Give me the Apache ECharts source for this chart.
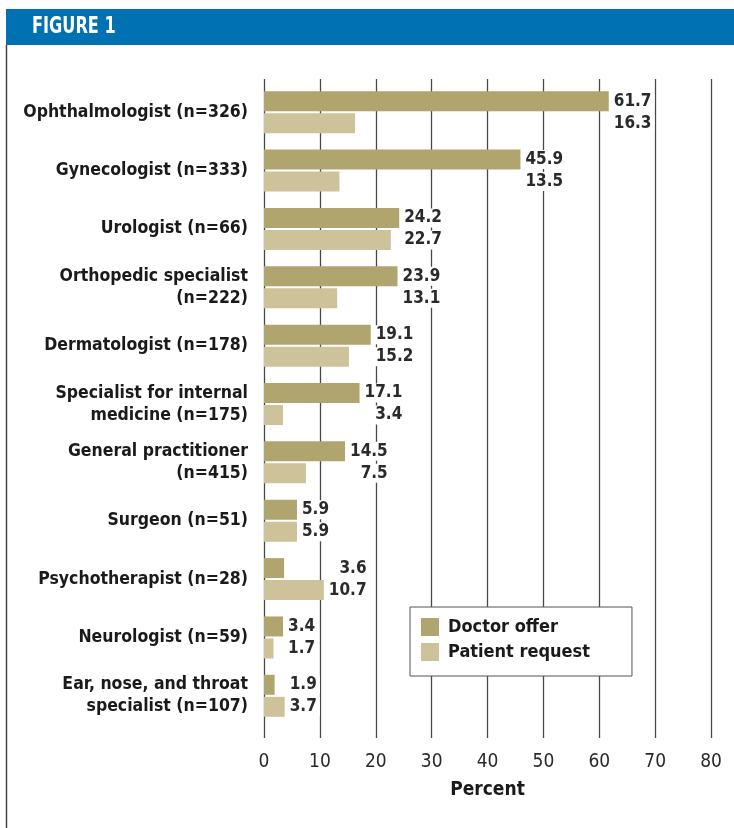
<!DOCTYPE html>
<html><head><meta charset="utf-8">
<script src="https://cdn.jsdelivr.net/npm/echarts@6/dist/echarts.min.js"></script>
<style>html,body{margin:0;padding:0;background:#fff}#c{width:734px;height:828px}</style>
</head><body><div id="c"></div>
<script>
const categories = [
  'Ophthalmologist (n=326)',
  'Gynecologist (n=333)',
  'Urologist (n=66)',
  'Orthopedic specialist\n(n=222)',
  'Dermatologist (n=178)',
  'Specialist for internal\nmedicine (n=175)',
  'General practitioner\n(n=415)',
  'Surgeon (n=51)',
  'Psychotherapist (n=28)',
  'Neurologist (n=59)',
  'Ear, nose, and throat\nspecialist (n=107)'
];
const doctorOffer = [61.7, 45.9, 24.2, 23.9, 19.1, 17.1, 14.5, 5.9, 3.6, 3.4, 1.9];
const patientRequest = [16.3, 13.5, 22.7, 13.1, 15.2, 3.4, 7.5, 5.9, 10.7, 1.7, 3.7];
const xTicks = [0, 10, 20, 30, 40, 50, 60, 70, 80];
const seriesNames = ['Doctor offer', 'Patient request'];

const FONT = "'Liberation Sans Narrow', 'DejaVu Sans Condensed', 'Arial Narrow', sans-serif";
const C1 = '#b1a56f', C2 = '#cdc299';
const valFont = 'bold 17px ' + FONT;
const mctx = document.createElement('canvas').getContext('2d');
function tw(t){ mctx.font = valFont; return mctx.measureText(t).width; }

const chart = echarts.init(document.getElementById('c'), null, {renderer:'canvas'});
const labelData = categories.map((c,i)=>[Math.max(doctorOffer[i], patientRequest[i]), i, doctorOffer[i], patientRequest[i]]);

chart.setOption({
  backgroundColor:'#fff',
  animation:false,
  textStyle:{fontFamily:FONT},
  graphic:[
    {type:'rect', shape:{x:6,y:9,width:728,height:36}, style:{fill:'#0071b3'}},
    {type:'text', x:32, y:27, scaleX:0.78, style:{text:'FIGURE 1', fill:'#fff', font:'bold 23px '+FONT, verticalAlign:'middle'}},
    {type:'line', shape:{x1:6.5,y1:45,x2:6.5,y2:828}, style:{stroke:'#444', lineWidth:1.5}}
  ],
  legend:{
    data:seriesNames, orient:'vertical', left:410, top:607,
    borderColor:'#555', borderWidth:1, padding:[11,42,15,11],
    itemWidth:18, itemHeight:18, itemGap:7, icon:'rect',
    textStyle:{fontSize:18, fontWeight:'bold', color:'#1a1a1a', fontFamily:FONT, padding:[0,0,0,4]},
    backgroundColor:'#fff', z:10
  },
  grid:[
    {left:264, top:79, width:447, height:659},
    {left:264, top:83, width:447, height:642}
  ],
  xAxis:[
    {gridIndex:0, type:'value', min:xTicks[0], max:xTicks[xTicks.length-1], interval:xTicks[1]-xTicks[0],
     axisLine:{show:false}, axisTick:{show:false},
     splitLine:{show:true, lineStyle:{color:'#484848', width:1.3}},
     axisLabel:{fontSize:19, color:'#2a2a2a', margin:15, fontFamily:FONT},
     name:'Percent', nameLocation:'middle', nameGap:43,
     nameTextStyle:{fontSize:19, fontWeight:'bold', color:'#1a1a1a', fontFamily:FONT}},
    {gridIndex:1, type:'value', min:xTicks[0], max:xTicks[xTicks.length-1], show:false}
  ],
  yAxis:[
    {gridIndex:0, type:'value', show:false},
    {gridIndex:1, type:'category', data:categories, inverse:true,
     axisLine:{show:false}, axisTick:{show:false},
     axisLabel:{fontSize:17.5, fontWeight:'bold', color:'#1a1a1a', margin:16, lineHeight:22, align:'right', fontFamily:FONT}}
  ],
  series:[
    {name:seriesNames[0], type:'bar', xAxisIndex:1, yAxisIndex:1, data:doctorOffer, barWidth:20, barGap:'10%',
     itemStyle:{color:C1}},
    {name:seriesNames[1], type:'bar', xAxisIndex:1, yAxisIndex:1, data:patientRequest, barWidth:20,
     itemStyle:{color:C2}},
    {type:'custom', xAxisIndex:1, yAxisIndex:1, data:labelData, encode:{x:0,y:1}, z:5,
     renderItem:function(params, api){
       const m = api.value(0), i = api.value(1), d = api.value(2), p = api.value(3);
       const pt = api.coord([m, i]);
       const t1 = d.toFixed(1), t2 = p.toFixed(1);
       const w = Math.max(tw(t1), tw(t2));
       const xr = pt[0] + 8 + w;
       const mk = (t, y)=>({type:'text', style:{text:t, x:xr, y:y, align:'right', verticalAlign:'middle',
          font:valFont, fill:'#2a2a2a', backgroundColor:'#fff', padding:[1,3,1,3]}});
       return {type:'group', children:[mk(t1, pt[1]-11), mk(t2, pt[1]+11)]};
     }}
  ]
});
</script></body></html>
